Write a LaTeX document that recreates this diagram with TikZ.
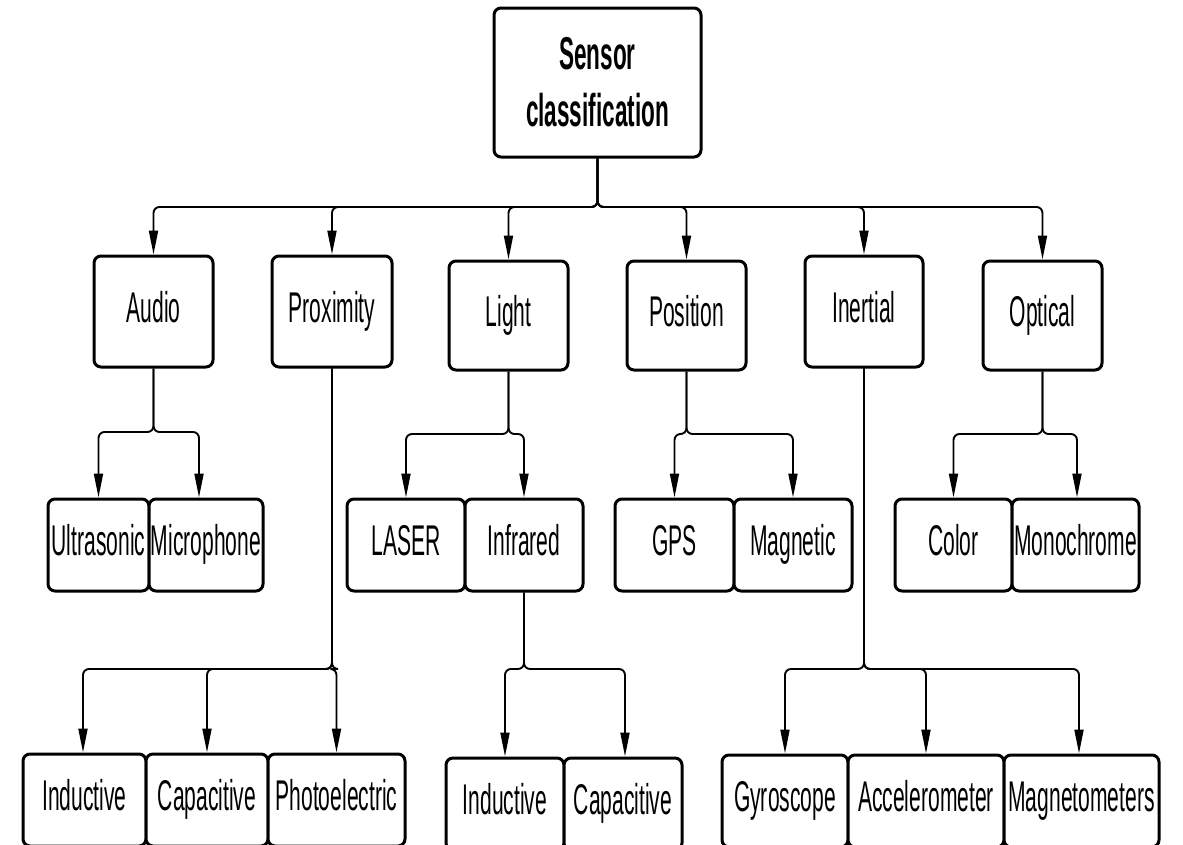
\documentclass[tikz,border=0pt]{standalone}
\usepackage{fontspec}
\setmainfont{Liberation Sans}[FakeStretch=0.49]
\usetikzlibrary{arrows.meta}
\begin{document}
\begin{tikzpicture}[x=1pt,y=-1pt,
  box/.style={draw=black, line width=3pt, rounded corners=7pt, fill=white,
    inner sep=0pt, font=\fontsize{43}{57}\selectfont,
    text height=31pt, text depth=10pt},
  rootbox/.style={draw=black, line width=3pt, rounded corners=7pt, fill=white,
    inner sep=0pt, align=center, font=\fontsize{46}{57}\selectfont\bfseries},
  conn/.style={draw=black, line width=1.9pt, rounded corners=6pt,
    -{Triangle[length=24pt,width=9pt]}},
]
\path[use as bounding box, clip] (0,0) rectangle (1183,844);
\fill[white] (0,0) rectangle (1183,844);

% bus heights
\coordinate (b0) at (0,207);
\coordinate (b1) at (0,432);
\coordinate (b2) at (0,434);
\coordinate (b3) at (0,669);

% root
\node[rootbox, minimum width=207pt, minimum height=149pt] (root) at (597.5,82.5) {Sensor\\classification};

% first level
\node[box, minimum width=119pt, minimum height=111pt] (audio) at (153.5,311.5) {Audio};
\node[box, minimum width=120pt, minimum height=111pt] (prox)  at (332,311.5)   {Proximity};
\node[box, minimum width=119pt, minimum height=109pt] (light) at (508.5,315.5) {Light};
\node[box, minimum width=119pt, minimum height=109pt] (pos)   at (686.5,315.5) {Position};
\node[box, minimum width=118pt, minimum height=111pt] (inert) at (864,311.5)   {Inertial};
\node[box, minimum width=119pt, minimum height=109pt] (opt)   at (1042.5,315.5) {Optical};

% second level
\node[box, minimum width=101pt, minimum height=92pt] (ultra) at (98.5,545)  {Ultrasonic};
\node[box, minimum width=114pt, minimum height=92pt] (micro) at (206,545)   {Microphone};
\node[box, minimum width=118pt, minimum height=92pt] (laser) at (406,545)   {LASER};
\node[box, minimum width=118pt, minimum height=92pt] (infra) at (524,545)   {Infrared};
\node[box, minimum width=119pt, minimum height=92pt] (gps)   at (674.5,545) {GPS};
\node[box, minimum width=118pt, minimum height=92pt] (magn)  at (793,545)   {Magnetic};
\node[box, minimum width=117pt, minimum height=92pt] (color) at (953.5,545) {Color};
\node[box, minimum width=127pt, minimum height=92pt] (mono)  at (1075.5,545) {Monochrome};

% third level
\node[box, minimum width=123pt, minimum height=92pt] (indA)  at (84.5,800)  {Inductive};
\node[box, minimum width=122pt, minimum height=92pt] (capA)  at (207,800)   {Capacitive};
\node[box, minimum width=137pt, minimum height=92pt] (photo) at (336.5,800) {Photoelectric};
\node[box, minimum width=118pt, minimum height=92pt] (indB)  at (505,804)   {Inductive};
\node[box, minimum width=118pt, minimum height=92pt] (capB)  at (623,804)   {Capacitive};
\node[box, minimum width=126pt, minimum height=92pt] (gyro)  at (785,801)   {Gyroscope};
\node[box, minimum width=156pt, minimum height=92pt] (accel) at (926,801)   {Accelerometer};
\node[box, minimum width=155pt, minimum height=92pt] (magm)  at (1081.5,801) {Magnetometers};

% connectors: root to first level
\foreach \c in {audio,prox,light,pos,inert,opt}
  \draw[conn] (root.south) -- (root.south |- b0) -| (\c.north);

% first to second level
\draw[conn] (audio.south) -- (audio.south |- b1) -| (ultra.north);
\draw[conn] (audio.south) -- (audio.south |- b1) -| ([xshift=-7pt]micro.north);
\draw[conn] (light.south) -- (light.south |- b2) -| (laser.north);
\draw[conn] (light.south) -- (light.south |- b2) -| (infra.north);
\draw[conn] (pos.south) -- (pos.south |- b2) -| (gps.north);
\draw[conn] (pos.south) -- (pos.south |- b2) -| (magn.north);
\draw[conn] (opt.south) -- (opt.south |- b2) -| (color.north);
\draw[conn] (opt.south) -- (opt.south |- b2) -| ([xshift=1.5pt]mono.north);

% down to third level
\draw[conn] (prox.south) -- (prox.south |- b3) -| ([xshift=-1.5pt]indA.north);
\draw[conn] (prox.south) -- (prox.south |- b3) -| (capA.north);
\draw[conn] (prox.south) -- (prox.south |- b3) -| (photo.north);
\draw[conn] (infra.south) -- (infra.south |- b3) -| (indB.north);
\draw[conn] (infra.south) -- (infra.south |- b3) -| ([xshift=2pt]capB.north);
\draw[conn] (inert.south) -- (inert.south |- b3) -| (gyro.north);
\draw[conn] (inert.south) -- (inert.south |- b3) -| (accel.north);
\draw[conn] (inert.south) -- (inert.south |- b3) -| ([xshift=-2.5pt]magm.north);
\end{tikzpicture}
\end{document}
